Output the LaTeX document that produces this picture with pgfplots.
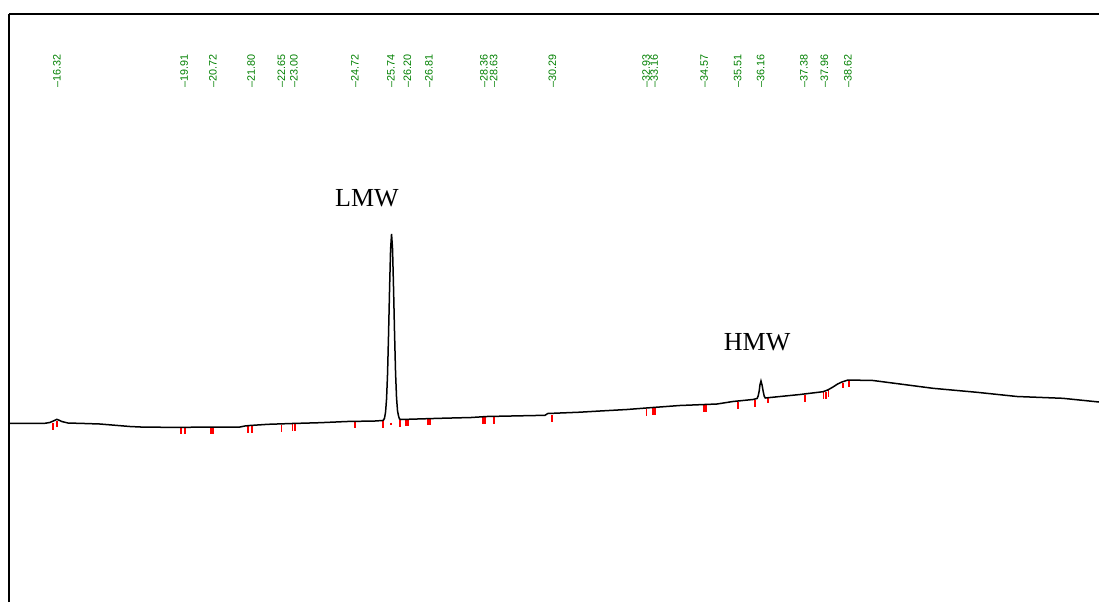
\documentclass[border=0pt]{standalone}
\usepackage{fontspec}
\setmainfont{Liberation Serif}
\newfontfamily\labfont{Liberation Sans}
\usepackage{pgfplots}
\pgfplotsset{compat=1.18}
\definecolor{labgreen}{RGB}{0,128,0}
\definecolor{tickred}{RGB}{255,0,0}
\begin{document}
\begin{tikzpicture}
\path[use as bounding box] (0,0) rectangle (1099pt,-602pt);
\begin{axis}[
  at={(9pt,-14pt)}, anchor=north west,
  scale only axis, width=1090pt, height=588pt,
  xmin=14.97, xmax=45.70, ymin=-178, ymax=410,
  axis x line=top, axis y line=left,
  axis line style={-, line width=1.3pt, black},
  xtick=\empty, ytick=\empty,
  unbounded coords=jump,
]
% red integration ticks (each a short vertical segment below the trace)
\addplot[tickred, line width=1.4pt, mark=none] coordinates {
(16.21,1) (16.21,-6) (16.21,nan)
(16.32,3.5) (16.32,-3) (16.32,nan)
(19.82,-3.3) (19.82,-10) (19.82,nan)
(19.93,-3.3) (19.93,-10) (19.93,nan)
(20.66,-3) (20.66,-10) (20.66,nan)
(20.72,-3) (20.72,-10) (20.72,nan)
(21.71,-1.8) (21.71,-9) (21.71,nan)
(21.82,-1.5) (21.82,-8.5) (21.82,nan)
(22.66,-0.5) (22.66,-7.5) (22.66,nan)
(22.97,0) (22.97,-7) (22.97,nan)
(23.03,0) (23.03,-7) (23.03,nan)
(24.72,2.5) (24.72,-4) (24.72,nan)
(25.51,3.5) (25.51,-3.5) (25.51,nan)
(25.74,1.5) (25.74,-0.5) (25.74,nan)
(25.99,4.5) (25.99,-2.5) (25.99,nan)
(26.16,4.5) (26.16,-2) (26.16,nan)
(26.22,4.5) (26.22,-2) (26.22,nan)
(26.78,5.5) (26.78,-1) (26.78,nan)
(26.84,5.5) (26.84,-1) (26.84,nan)
(28.33,7) (28.33,0) (28.33,nan)
(28.39,7) (28.39,0) (28.39,nan)
(28.64,7.5) (28.64,0.5) (28.64,nan)
(30.27,9) (30.27,2) (30.27,nan)
(30.30,9) (30.30,2) (30.30,nan)
(32.95,15) (32.95,8) (32.95,nan)
(33.12,16) (33.12,9) (33.12,nan)
(33.18,16.5) (33.18,9.5) (33.18,nan)
(34.56,19.5) (34.56,12.5) (34.56,nan)
(34.62,19.5) (34.62,12.5) (34.62,nan)
(35.52,22) (35.52,15) (35.52,nan)
(36.00,24.5) (36.00,17.5) (36.00,nan)
(36.37,26) (36.37,21) (36.37,nan)
(37.41,29.5) (37.41,22.5) (37.41,nan)
(37.94,32) (37.94,25) (37.94,nan)
(38.00,32.5) (38.00,25.5) (38.00,nan)
(38.08,34) (38.08,27) (38.08,nan)
(38.48,41) (38.48,36) (38.48,nan)
(38.65,44) (38.65,37) (38.65,nan)
};
% chromatogram trace (time in min, signal)
\addplot[black, line width=1.5pt, mark=none] table {
t s
14.97 0.7
15.98 0.7
16.12 1.5
16.25 3.5
16.32 4.7
16.40 3.5
16.46 2.5
16.63 1
17.11 0.5
17.53 0
17.87 -1
18.38 -2.5
18.80 -3.2
19.79 -3.3
20.35 -3.2
21.48 -3.0
21.62 -2.0
21.76 -1.5
22.27 -0.3
22.95 0.5
23.73 1.3
24.50 2.5
25.29 3
25.50 3.5
25.530 4
25.558 6
25.586 12
25.614 25
25.642 50
25.670 89
25.699 135
25.727 174
25.755 190
25.783 175
25.811 136
25.840 90
25.868 51
25.896 26
25.924 13
25.952 8
25.980 5
26.02 4.5
27.12 5.7
28.00 6.5
28.44 7.5
30.08 8.7
30.16 10.5
31.06 11.8
31.63 13
32.39 14.5
33.12 16.5
33.88 18.5
34.93 20
35.38 22.5
35.94 24.5
36.06 25.5
36.09 28
36.12 33
36.14 39
36.17 43
36.20 39
36.23 33
36.26 28
36.29 26
37.27 29.5
37.92 32.3
38.05 34
38.20 37
38.33 40
38.45 42
38.62 44
39.33 43.5
40.09 40
41.02 35.7
42.26 31.7
43.39 27.5
44.68 25.7
45.70 22
};
% green retention time labels
\addplot[only marks, mark=none,
  point meta=explicit symbolic,
  nodes near coords={\labfont\textendash\pgfplotspointmeta},
  nodes near coords style={rotate=90, anchor=west, inner sep=0pt,
    text=labgreen, font=\fontsize{10.8}{10.8}\selectfont}]
  table[meta=lab] {
x y lab
16.32 336 16.32
19.91 336 19.91
20.72 336 20.72
21.80 336 21.80
22.65 336 22.65
23.00 336 23.00
24.72 336 24.72
25.74 336 25.74
26.20 336 26.20
26.81 336 26.81
28.36 336 28.36
28.63 336 28.63
30.29 336 30.29
32.93 336 32.93
33.16 336 33.16
34.57 336 34.57
35.51 336 35.51
36.16 336 36.16
37.38 336 37.38
37.96 336 37.96
38.62 336 38.62
};
\node[fill=white, font=\fontsize{26}{26}\selectfont, inner xsep=20pt, inner ysep=14pt]
  at (axis cs:25.06,226) {LMW};
\node[fill=white, font=\fontsize{26}{26}\selectfont, inner xsep=16pt, inner ysep=10pt]
  at (axis cs:36.06,82) {HMW};
\end{axis}
\end{tikzpicture}
\end{document}
